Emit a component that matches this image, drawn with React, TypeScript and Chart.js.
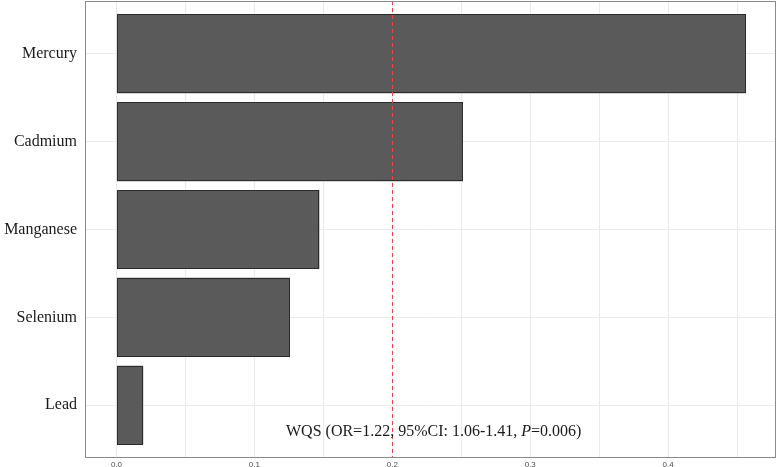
import React, { useEffect, useRef } from "react";
import { Chart, registerables } from "chart.js";

Chart.register(...registerables);

const categories = ["Mercury", "Cadmium", "Manganese", "Selenium", "Lead"];
const weights = [0.4563, 0.251, 0.1471, 0.1258, 0.0194];
const xTicks = [0, 0.05, 0.1, 0.15, 0.2, 0.25, 0.3, 0.35, 0.4, 0.45];
const majorTicks = [0, 0.1, 0.2, 0.3, 0.4];
const threshold = 0.2;
const annotationParts = [
  { text: "WQS (OR=1.22, 95%CI: 1.06-1.41, ", italic: false },
  { text: "P", italic: true },
  { text: "=0.006)", italic: false },
];
const annotationX = 0.23;
const annotationY = 5.3;

const SERIF = '"Liberation Serif", "Times New Roman", serif';

const overlayPlugin = {
  id: "overlay",
  afterDatasetsDraw(chart: any) {
    const { ctx, chartArea, scales } = chart;
    const xs = scales.x;
    const ys = scales.y;
    ctx.save();

    // crisp bar outlines
    const meta = chart.getDatasetMeta(0);
    ctx.strokeStyle = "#2b2b2b";
    ctx.lineWidth = 1;
    meta.data.forEach((bar: any) => {
      const { x, y, base, height } = bar.getProps(["x", "y", "base", "height"], true);
      const l = Math.round(Math.min(x, base));
      const r = Math.round(Math.max(x, base));
      const t = Math.round(y - height / 2);
      const b = Math.round(y + height / 2);
      ctx.strokeRect(l + 0.5, t + 0.5, r - l - 1, b - t - 1);
    });

    const px = Math.round(xs.getPixelForValue(threshold)) + 0.5;
    ctx.strokeStyle = "#e8474c";
    ctx.lineWidth = 1;
    ctx.setLineDash([4, 3]);
    ctx.beginPath();
    ctx.moveTo(px, chartArea.top);
    ctx.lineTo(px, chartArea.bottom);
    ctx.stroke();
    ctx.setLineDash([]);

    const fontFor = (it: boolean) => `${it ? "italic " : ""}16px ${SERIF}`;
    let total = 0;
    const widths = annotationParts.map((p) => {
      ctx.font = fontFor(p.italic);
      const w = ctx.measureText(p.text).width;
      total += w;
      return w;
    });
    let tx = xs.getPixelForValue(annotationX) - total / 2;
    const ty = ys.getPixelForValue(annotationY);
    ctx.fillStyle = "#1a1a1a";
    ctx.textBaseline = "middle";
    ctx.textAlign = "left";
    annotationParts.forEach((p, i) => {
      ctx.font = fontFor(p.italic);
      ctx.fillText(p.text, tx, ty);
      tx += widths[i];
    });

    ctx.strokeStyle = "#8a8a8a";
    ctx.lineWidth = 1;
    ctx.strokeRect(
      chartArea.left + 0.5,
      chartArea.top + 0.5,
      chartArea.right - chartArea.left - 1,
      chartArea.bottom - chartArea.top - 1
    );
    ctx.restore();
  },
};

export default function App() {
  const ref = useRef<HTMLCanvasElement | null>(null);

  useEffect(() => {
    document.body.style.margin = "0";
    const canvas = ref.current;
    if (!canvas) return;
    const chart = new Chart(canvas, {
      type: "bar",
      data: {
        datasets: [
          {
            data: weights.map((w, i) => ({ x: w, y: i + 1 })),
            backgroundColor: "#595a59",
            borderWidth: 0,
            inflateAmount: 0,
            barPercentage: 0.9,
            categoryPercentage: 1,
          },
        ],
      },
      options: {
        indexAxis: "y",
        responsive: false,
        animation: false,
        devicePixelRatio: 1,
        layout: { padding: { top: 1, right: 2, left: 0, bottom: 0 } },
        plugins: {
          legend: { display: false },
          tooltip: { enabled: false },
        },
        scales: {
          x: {
            type: "linear",
            min: -0.0228,
            max: 0.4782,
            offset: false,
            afterBuildTicks: (s: any) => {
              s.ticks = xTicks.map((v) => ({ value: v }));
            },
            afterFit: (s: any) => {
              s.height = 9;
              s.paddingLeft = 0;
              s.paddingRight = 0;
            },
            grid: {
              color: "#ebebeb",
              lineWidth: 1,
              drawTicks: false,
              offset: false,
            },
            border: { display: false },
            ticks: {
              padding: 2,
              autoSkip: false,
              maxRotation: 0,
              color: "#4d4d4d",
              font: { size: 8, family: '"Liberation Sans", Arial, sans-serif' },
              callback: (v: any) => {
                const n = Number(v);
                return majorTicks.some((m) => Math.abs(m - n) < 1e-9) ? n.toFixed(1) : "";
              },
            },
          },
          y: {
            type: "linear",
            reverse: true,
            min: 0.4,
            max: 5.6,
            offset: false,
            afterBuildTicks: (s: any) => {
              s.ticks = categories.map((_, i) => ({ value: i + 1 }));
            },
            afterFit: (s: any) => {
              s.width = 85;
              s.paddingTop = 0;
              s.paddingBottom = 0;
            },
            grid: {
              color: "#ebebeb",
              lineWidth: 1,
              drawTicks: false,
              offset: false,
            },
            border: { display: false },
            ticks: {
              padding: 8,
              autoSkip: false,
              color: "#1a1a1a",
              font: { size: 16, family: SERIF },
              callback: (v: any) => categories[Math.round(Number(v)) - 1] ?? "",
            },
          },
        },
      },
      plugins: [overlayPlugin],
    } as any);
    return () => chart.destroy();
  }, []);

  return <canvas ref={ref} width={778} height={467} style={{ display: "block" }} />;
}
